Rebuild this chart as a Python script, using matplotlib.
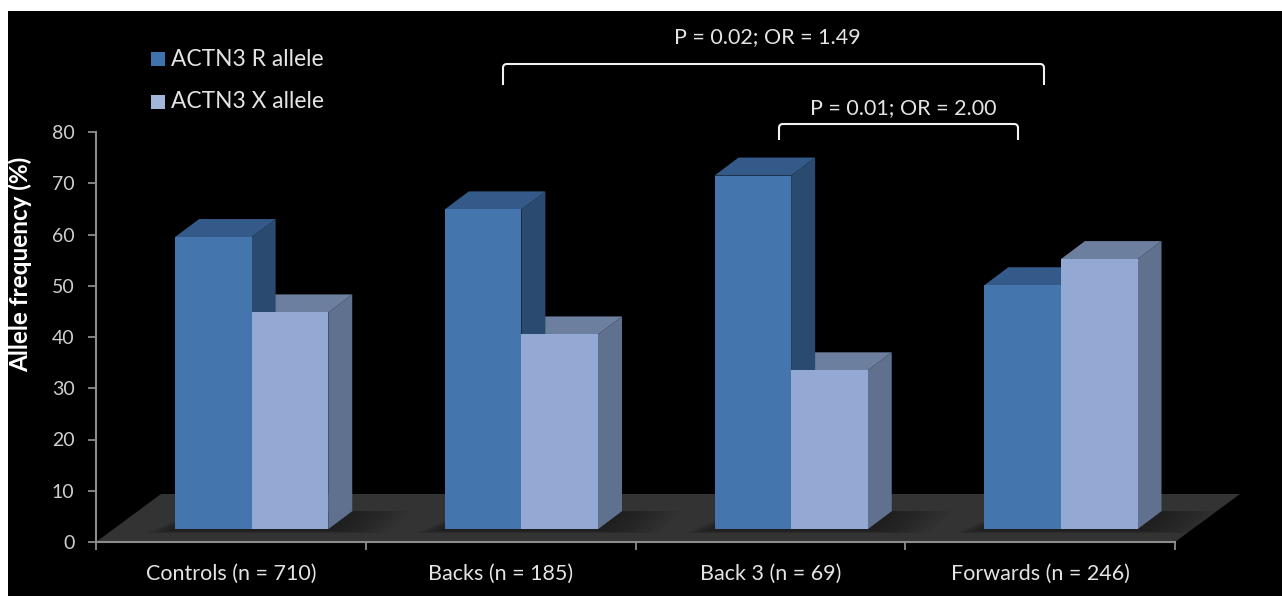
import matplotlib
matplotlib.use("Agg")
import matplotlib.pyplot as plt
from matplotlib.patches import Polygon, Rectangle, PathPatch
from matplotlib.path import Path

groups = ["Controls (n = 710)", "Backs (n = 185)", "Back 3 (n = 69)", "Forwards (n = 246)"]
r_allele = [57, 62.4, 69, 47.6]
x_allele = [42.3, 38, 31, 52.7]
y_ticks = [0, 10, 20, 30, 40, 50, 60, 70, 80]

W, H = 1282, 596
# depth of the fake 3d, in data units
base = 2.5
bar_w = 0.284
bar_off = 0.293
dx = 24 / 269.75
dy = 18 / 5.125

plt.rcParams['font.family'] = ['Lato', 'DejaVu Sans']
txt = '#e4e4e4'

fig = plt.figure(figsize=(W / 100, H / 100), dpi=100, facecolor='white')
# black panel, white strip on left and top
fig.patches.append(Rectangle((8 / W, 0), 1 - 8 / W, 1 - 11 / H, transform=fig.transFigure,
                             fc='black', ec='none', zorder=-5))

ax = fig.add_axes([96 / W, (H - 542) / H, 1079 / W, 410 / H])
ax.patch.set_visible(False)
ax.set_xlim(0, 4)
ax.set_ylim(0, 80)

# floor
floor = Polygon([(0, 0), (4, 0), (4 + 65 / 269.75, 48 / 5.125), (65 / 269.75, 48 / 5.125)],
                fc='#333333', ec='none', clip_on=False, zorder=1)
ax.add_patch(floor)


def draw_bar(x0, val, front, side, top):
    ax.bar(x0, val, bar_w, bottom=base, align='edge', color=front, edgecolor='none', zorder=4, clip_on=False)
    y1 = base + val
    x1 = x0 + bar_w
    ax.add_patch(Polygon([(x1, base), (x1 + dx, base + dy), (x1 + dx, y1 + dy), (x1, y1)],
                         fc=side, ec='none', clip_on=False, zorder=3))
    ax.add_patch(Polygon([(x0, y1), (x1, y1), (x1 + dx, y1 + dy), (x0 + dx, y1 + dy)],
                         fc=top, ec='none', clip_on=False, zorder=3))


for i in range(len(groups)):
    x0 = i + bar_off
    x1 = x0 + 2 * bar_w + dx
    # soft shadow on floor, stacked thin layers
    for k in range(8):
        grow = (8 - k) * 0.009
        ax.add_patch(Polygon([(x0 - grow * 1.5, base - 0.2 - grow * 8),
                              (x1 - dx + grow * 3, base - 0.2 - grow * 8),
                              (x1 + grow * 3, base + dy),
                              (x0 + dx, base + dy)],
                             fc='black', alpha=0.05, ec='none', clip_on=False, zorder=2))
    draw_bar(x0 + bar_w, x_allele[i], '#93a9d3', '#5f718f', '#6d7f9e')
    draw_bar(x0, r_allele[i], '#4475ad', '#2b4a70', '#335a89')

for s in ['top', 'right']:
    ax.spines[s].set_visible(False)
for s in ['left', 'bottom']:
    ax.spines[s].set_color('#8c8c8c')
    ax.spines[s].set_linewidth(1.5)
    ax.spines[s].set_zorder(5)

ax.set_yticks(y_ticks)
ax.set_xticks(range(5))
ax.set_xticklabels([])
ax.set_xticks([i + 0.5 for i in range(4)], minor=True)
ax.set_xticklabels(groups, minor=True, color=txt, fontsize=15.5)
ax.tick_params(axis='x', which='major', color='#8c8c8c', length=6, width=1.3, direction='out')
ax.tick_params(axis='x', which='minor', length=0, pad=16)
ax.tick_params(axis='y', colors='#cfcfcf', color='#8c8c8c', length=6, width=1.3, labelsize=14, pad=9.5)
ax.set_ylabel("Allele frequency (%)", color='white', fontsize=17.5, fontweight='bold')
ax.yaxis.set_label_coords(-0.0593, 0.678)

# legend drawn by hand, the markers are tiny squares
for y, c, lab in [(59, '#3f73ad', "ACTN3 R allele"), (102, '#a3b6da', "ACTN3 X allele")]:
    fig.patches.append(Rectangle((151 / W, 1 - (y + 7) / H), 14 / W, 14 / H, transform=fig.transFigure, fc=c, ec='none'))
    fig.text(171 / W, 1 - y / H, lab, color=txt, fontsize=16.4, va='center', ha='left')


# significance brackets, in pixel coordinates of the figure
def bracket(x0, x1, ytop, ybot, label, lx, ly):
    r = 4
    pts = [(x0, ybot), (x0, ytop + r), (x0, ytop), (x0 + r, ytop), (x1 - r, ytop),
           (x1, ytop), (x1, ytop + r), (x1, ybot)]
    codes = [Path.MOVETO, Path.LINETO, Path.CURVE3, Path.CURVE3, Path.LINETO,
             Path.CURVE3, Path.CURVE3, Path.LINETO]
    path = Path([(px / W, 1 - py / H) for px, py in pts], codes)
    fig.add_artist(PathPatch(path, transform=fig.transFigure, fc='none', ec='#f2f2f2', lw=1.5))
    fig.text(lx / W, 1 - ly / H, label, color=txt, fontsize=15.5, ha='center', va='center')


bracket(503, 1044, 64, 85, "P = 0.02; OR = 1.49", 767, 37)
bracket(779, 1018, 124, 140, "P = 0.01; OR = 2.00", 903, 108)

fig.savefig("out.png", dpi=100, facecolor='white')
